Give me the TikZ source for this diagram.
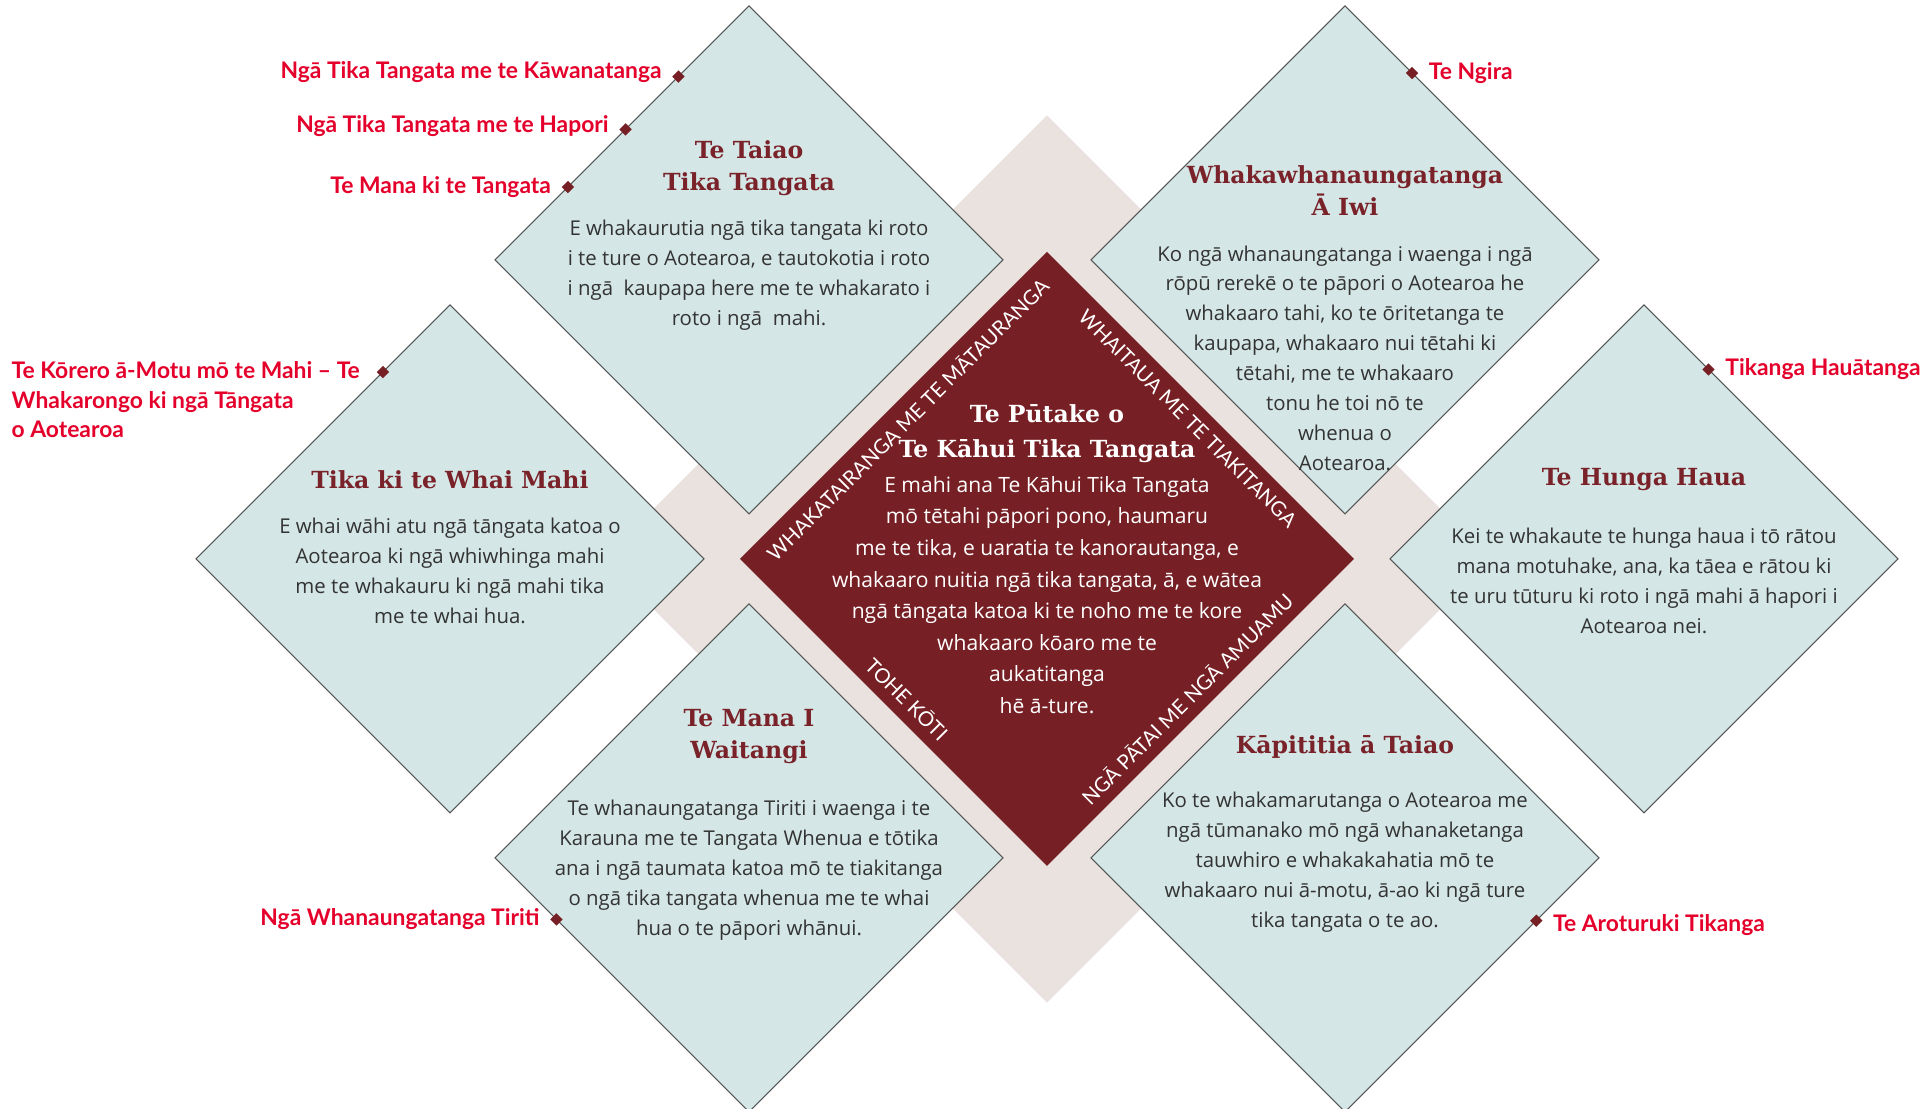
\documentclass[tikz,border=0pt]{standalone}
\usepackage{fontspec}
\setmainfont{Lato}
\newfontfamily\slabfont{DejaVu Serif}
\newfontfamily\copyfont{Open Sans}
\usepackage{xcolor}
\usetikzlibrary{shapes.geometric, positioning, calc}

\definecolor{tealfill}{HTML}{D4E7E6}
\definecolor{sand}{HTML}{EAE2DE}
\definecolor{wine}{HTML}{761F24}
\definecolor{headred}{HTML}{7A2229}
\definecolor{tagred}{HTML}{E4002B}
\definecolor{bodygray}{HTML}{333333}
\definecolor{rimgray}{HTML}{555555}

\begin{document}
\begin{tikzpicture}[
    panel/.style={diamond, draw=rimgray, line width=0.3pt, fill=tealfill, minimum size=5.08cm, inner sep=0pt, outer sep=0pt},
    head/.style={font=\slabfont\bfseries\fontsize{6.7}{9.1}\selectfont, text=headred, align=center, inner sep=0pt},
    body/.style={font=\copyfont\fontsize{5.8}{8.5}\selectfont, text=bodygray, align=center, inner sep=0pt},
    dot/.style={diamond, fill=wine, minimum size=0.13cm, inner sep=0pt},
    tag/.style={font=\bfseries\fontsize{6.5}{8.4}\selectfont, text=tagred, inner sep=0pt},
    rim/.style={font=\fontsize{5.8}{7}\selectfont, text=white, sloped, inner sep=0.1cm},
  ]
  \useasboundingbox (0,0) rectangle (19.30,11.09);

  % backdrop and core
  \node[diamond, fill=sand, minimum size=8.88cm, inner sep=0pt] (back) at (10.47,5.50) {};
  \node[diamond, fill=wine, minimum size=6.14cm, inner sep=0pt, outer sep=0pt] (core) at (10.47,5.50) {};

  \node[head, text=white, font=\slabfont\bfseries\fontsize{6.7}{10}\selectfont] (hc) at ([yshift=1.25cm]core.center) {Te Pūtake o\\Te Kāhui Tika Tangata};
  \node[body, text=white, font=\copyfont\fontsize{6}{9}\selectfont] (bc) at ([yshift=-0.36cm]core.center)
    {E mahi ana Te Kāhui Tika Tangata\\mō tētahi pāpori pono, haumaru\\me te tika, e uaratia te kanorautanga, e\\whakaaro nuitia ngā tika tangata, ā, e wātea\\ngā tāngata katoa ki te noho me te kore\\whakaaro kōaro me te\\aukatitanga\\hē ā-ture.};

  \path (core.west) -- (core.north) node[rim, midway, below] {WHAKATAIRANGA ME TE MĀTAURANGA};
  \path (core.north) -- (core.east) node[rim, midway, below] {WHAITAUA ME TE TIAKITANGA};
  \path (core.west) -- (core.south) node[rim, midway, above] {TOHE KŌTI};
  \path (core.south) -- (core.east) node[rim, midway, above] {NGĀ PĀTAI ME NGĀ AMUAMU};

  % the six panels
  \node[panel] (p1) at (7.49,8.49) {};
  \node[panel] (p2) at (13.45,8.49) {};
  \node[panel] (p3) at (4.50,5.50) {};
  \node[panel] (p4) at (16.44,5.50) {};
  \node[panel] (p5) at (7.49,2.51) {};
  \node[panel] (p6) at (13.45,2.51) {};

  \node[head] (h1) at ([yshift=0.92cm]p1.center) {Te Taiao\\Tika Tangata};
  \node[body] (b1) at ([yshift=-0.15cm]p1.center)
    {E whakaurutia ngā tika tangata ki roto\\i te ture o Aotearoa, e tautokotia i roto\\i ngā\ \ kaupapa here me te whakarato i\\roto i ngā\ \ mahi.};

  \node[head] (h2) at ([yshift=0.69cm]p2.center) {Whakawhanaungatanga\\Ā Iwi};
  \node[body] (b2) at ([yshift=-0.98cm]p2.center)
    {Ko ngā whanaungatanga i waenga i ngā\\rōpū rerekē o te pāpori o Aotearoa he\\whakaaro tahi, ko te ōritetanga te\\kaupapa, whakaaro nui tētahi ki\\tētahi, me te whakaaro\\tonu he toi nō te\\whenua o\\Aotearoa.};

  \node[head] (h3) at ([yshift=0.79cm]p3.center) {Tika ki te Whai Mahi};
  \node[body] (b3) at ([yshift=-0.12cm]p3.center)
    {E whai wāhi atu ngā tāngata katoa o\\Aotearoa ki ngā whiwhinga mahi\\me te whakauru ki ngā mahi tika\\me te whai hua.};

  \node[head] (h4) at ([yshift=0.79cm]p4.center) {Te Hunga Haua};
  \node[body] (b4) at ([yshift=-0.22cm]p4.center)
    {Kei te whakaute te hunga haua i tō rātou\\mana motuhake, ana, ka tāea e rātou ki\\te uru tūturu ki roto i ngā mahi ā hapori i\\Aotearoa nei.};

  \node[head] (h5) at ([yshift=1.21cm]p5.center) {Te Mana I\\Waitangi};
  \node[body] (b5) at ([yshift=-0.12cm]p5.center)
    {Te whanaungatanga Tiriti i waenga i te\\Karauna me te Tangata Whenua e tōtika\\ana i ngā taumata katoa mō te tiakitanga\\o ngā tika tangata whenua me te whai\\hua o te pāpori whānui.};

  \node[head] (h6) at ([yshift=1.11cm]p6.center) {Kāpititia ā Taiao};
  \node[body] (b6) at ([yshift=-0.04cm]p6.center)
    {Ko te whakamarutanga o Aotearoa me\\ngā tūmanako mō ngā whanaketanga\\tauwhiro e whakakahatia mō te\\whakaaro nui ā-motu, ā-ao ki ngā ture\\tika tangata o te ao.};

  % markers and their tags
  \node[dot] (m1) at ($(p1.north)!0.278!(p1.west)$) {};
  \node[dot] (m2) at ($(p1.north)!0.486!(p1.west)$) {};
  \node[dot] (m3) at ($(p1.north)!0.713!(p1.west)$) {};
  \node[dot] (m4) at ($(p3.north)!0.264!(p3.west)$) {};
  \node[dot] (m5) at ($(p5.west)!0.242!(p5.south)$) {};
  \node[dot] (m6) at ($(p2.north)!0.264!(p2.east)$) {};
  \node[dot] (m7) at ($(p4.north)!0.254!(p4.east)$) {};
  \node[dot] (m8) at ($(p6.east)!0.247!(p6.south)$) {};

  \node[tag, left=0.09cm of m1, yshift=0.05cm] (t1) {Ngā Tika Tangata me te Kāwanatanga};
  \node[tag, left=0.09cm of m2, yshift=0.03cm] (t2) {Ngā Tika Tangata me te Hapori};
  \node[tag, left=0.09cm of m3] (t3) {Te Mana ki te Tangata};
  \node[tag, align=left, anchor=north west] (t4) at (0.11,7.48)
    {Te Kōrero ā-Motu mō te Mahi – Te\\Whakarongo ki ngā Tāngata\\o Aotearoa};
  \node[tag, left=0.09cm of m5] (t5) {Ngā Whanaungatanga Tiriti};
  \node[tag, right=0.09cm of m6] (t6) {Te Ngira};
  \node[tag, right=0.09cm of m7] (t7) {Tikanga Hauātanga};
  \node[tag, right=0.09cm of m8, yshift=-0.04cm] (t8) {Te Aroturuki Tikanga};
\end{tikzpicture}
\end{document}
